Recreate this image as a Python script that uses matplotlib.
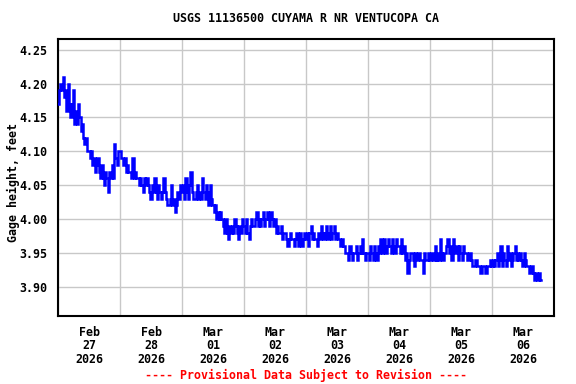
import numpy as np
import pandas as pd
import matplotlib
matplotlib.use("Agg")
import matplotlib.pyplot as plt

# Gage height readings, hundredths of a foot, every 30 minutes
feb27 = [417, 419, 420, 419, 421, 418, 419, 416, 420, 417, 415, 417,
         419, 414, 416, 414, 417, 415, 413, 414, 412, 411, 412, 410,
         410, 409, 410, 408, 409, 407, 408, 409, 407, 406, 408, 406,
         405, 407, 406, 404, 407, 406, 408, 406, 411, 409, 408, 410]
feb28 = [410, 409, 409, 408, 409, 407, 408, 407, 407, 406, 409, 406,
         407, 406, 406, 405, 406, 405, 404, 406, 405, 406, 405, 404,
         403, 405, 404, 406, 404, 403, 405, 404, 403, 404, 406, 404,
         403, 402, 402, 403, 405, 402, 403, 401, 402, 404, 403, 405]
mar01 = [404, 405, 403, 406, 404, 403, 405, 407, 404, 403, 403, 404,
         405, 403, 404, 403, 406, 404, 403, 405, 404, 402, 405, 403,
         402, 401, 402, 400, 401, 400, 401, 400, 399, 398, 400, 398,
         397, 399, 398, 399, 398, 400, 399, 398, 397, 399, 398, 400]
mar02 = [399, 398, 400, 398, 397, 399, 400, 399, 399, 400, 401, 399,
         400, 399, 400, 401, 399, 400, 401, 400, 399, 401, 400, 399,
         400, 398, 399, 398, 398, 399, 397, 398, 398, 397, 396, 397,
         398, 397, 397, 396, 397, 398, 396, 397, 398, 396, 397, 398]
mar03 = [397, 398, 396, 398, 399, 397, 398, 397, 397, 396, 398, 397,
         399, 398, 397, 398, 399, 397, 398, 399, 397, 398, 399, 397,
         398, 397, 397, 396, 397, 396, 396, 395, 395, 394, 396, 395,
         394, 395, 395, 396, 394, 395, 396, 395, 397, 395, 394, 395]
mar04 = [395, 394, 396, 395, 394, 396, 395, 394, 396, 395, 397, 395,
         396, 397, 395, 396, 397, 396, 395, 397, 396, 395, 397, 396,
         396, 395, 397, 395, 396, 394, 395, 392, 394, 395, 395, 394,
         393, 395, 394, 395, 395, 394, 394, 392, 395, 394, 394, 395]
mar05 = [394, 395, 395, 394, 396, 394, 395, 394, 397, 395, 394, 395,
         395, 396, 397, 395, 396, 394, 397, 395, 395, 396, 394, 396,
         395, 394, 396, 395, 395, 394, 394, 395, 394, 393, 393, 394,
         394, 393, 393, 392, 392, 393, 393, 392, 392, 393, 393, 394]
mar06 = [393, 394, 393, 394, 395, 393, 394, 396, 393, 395, 394, 393,
         396, 394, 395, 393, 394, 395, 396, 394, 395, 394, 395, 394,
         393, 395, 394, 393, 393, 392, 392, 393, 392, 391, 392, 391,
         391, 392, 391]

start_time = "2026-02-27 00:00"
step_minutes = 30
y_ticks = [3.90, 3.95, 4.00, 4.05, 4.10, 4.15, 4.20, 4.25]
day_labels = ["Feb\n27\n2026", "Feb\n28\n2026", "Mar\n01\n2026", "Mar\n02\n2026",
              "Mar\n03\n2026", "Mar\n04\n2026", "Mar\n05\n2026", "Mar\n06\n2026"]
title = "USGS 11136500 CUYAMA R NR VENTUCOPA CA"
ylabel = "Gage height, feet"
footer = "---- Provisional Data Subject to Revision ----"

values = np.concatenate([feb27, feb28, mar01, mar02, mar03, mar04, mar05, mar06]) / 100.0
times = pd.Timestamp(start_time) + pd.to_timedelta(np.arange(len(values)) * step_minutes, unit="min")

FONT = "DejaVu Sans Mono"
FS = 8.4

fig = plt.figure(figsize=(5.76, 3.84), dpi=100)
ax = fig.add_axes([58 / 576, 1 - 316 / 384, (554 - 58) / 576, (316 - 39) / 384])

ax.plot(times, values, color="#0000FF", lw=1.8, drawstyle="steps-mid",
        solid_joinstyle="miter", zorder=3)

day0 = pd.Timestamp(start_time)
ax.set_xlim(day0, day0 + pd.Timedelta(days=8))
ax.set_ylim(3.8567, 4.2658)

midnights = [day0 + pd.Timedelta(days=d) for d in range(9)]
noons = [day0 + pd.Timedelta(days=d, hours=12) for d in range(8)]
ax.set_xticks(midnights)
ax.set_xticklabels([])
ax.set_xticks(noons, minor=True)
ax.set_xticklabels(day_labels, minor=True, fontfamily=FONT, fontweight="bold",
                   fontsize=FS, linespacing=1.05)
ax.tick_params(axis="x", which="both", length=0, pad=7)

ax.set_yticks(y_ticks)
ax.set_yticklabels([f"{v:.2f}" for v in y_ticks], fontfamily=FONT,
                   fontweight="bold", fontsize=FS)
ax.tick_params(axis="y", length=0, pad=8)

ax.grid(True, which="major", color="#c8c8c8", lw=1.0, zorder=0)
for s in ax.spines.values():
    s.set_color("black")
    s.set_linewidth(1.5)

cx = (58 + 554) / 2 / 576
fig.text(13 / 576, 1 - 183 / 384, ylabel, rotation=90, ha="center", va="center",
         fontfamily=FONT, fontweight="bold", fontsize=FS)
fig.text(cx, 1 - 19 / 384, title, ha="center", va="center",
         fontfamily=FONT, fontweight="bold", fontsize=FS)
fig.text(cx, 1 - 375 / 384, footer, ha="center", va="center", color="#FF0000",
         fontfamily=FONT, fontweight="bold", fontsize=FS)

fig.savefig("out.png", dpi=100)
